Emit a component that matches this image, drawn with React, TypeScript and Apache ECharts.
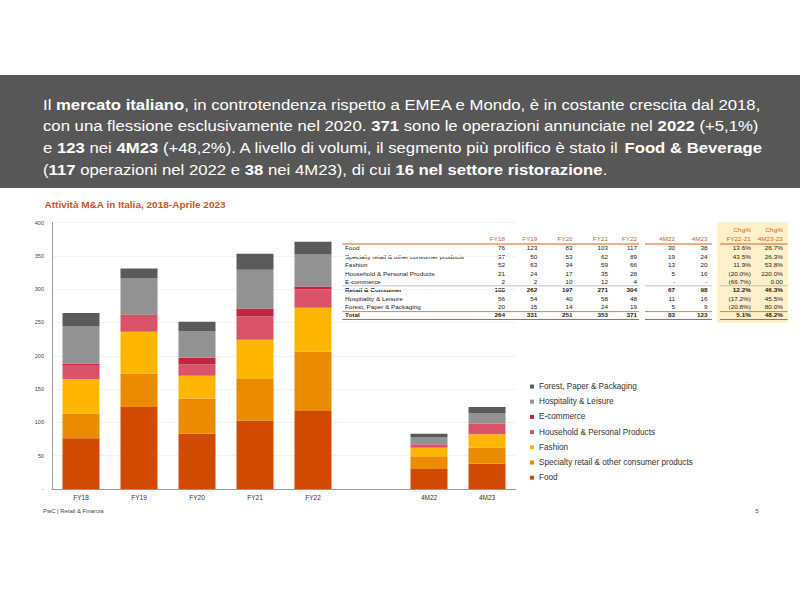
import React, { useEffect, useRef } from "react";
import * as echarts from "echarts";

const categories = ["FY18", "FY19", "FY20", "FY21", "FY22", "", "4M22", "4M23"];
const food = [76, 123, 83, 103, 117, null, 30, 38];
const specialty = [37, 50, 53, 62, 89, null, 19, 24];
const fashion = [52, 63, 34, 59, 66, null, 13, 20];
const household = [21, 24, 17, 35, 28, null, 5, 16];
const ecommerce = [2, 2, 10, 12, 4, null, 0, 0];
const hospitality = [56, 54, 40, 58, 48, null, 11, 16];
const forest = [20, 15, 14, 24, 19, null, 5, 9];

const seriesNames = [
  "Food",
  "Specialty retail & other consumer products",
  "Fashion",
  "Household & Personal Products",
  "E-commerce",
  "Hospitality & Leisure",
  "Forest, Paper & Packaging",
];
const seriesColors = ["#D04A02", "#EB8C00", "#FFB600", "#DB536A", "#C4243F", "#929292", "#5A5A5A"];

// Table content
const tableHeaders = ["FY18", "FY19", "FY20", "FY21", "FY22", "4M22", "4M23"];
const chgHeadersTop = ["Chg%", "Chg%"];
const chgHeadersBottom = ["FY22-21", "4M23-23"];
const tableRowLabels = [
  "Food",
  "Specialty retail & other consumer products",
  "Fashion",
  "Household & Personal Products",
  "E-commerce",
  "Retail & Consumer",
  "Hospitality & Leisure",
  "Forest, Paper & Packaging",
  "Total",
];
const tableValues = [
  ["76", "123", "83", "103", "117", "30", "38", "13.6%", "26.7%"],
  ["37", "50", "53", "62", "89", "19", "24", "43.5%", "26.3%"],
  ["52", "63", "34", "59", "66", "13", "20", "11.9%", "53.8%"],
  ["21", "24", "17", "35", "28", "5", "16", "(20.0%)", "220.0%"],
  ["2", "2", "10", "12", "4", "-", "-", "(66.7%)", "0.00"],
  ["188", "262", "197", "271", "304", "67", "98", "12.2%", "46.3%"],
  ["56", "54", "40", "58", "48", "11", "16", "(17.2%)", "45.5%"],
  ["20", "15", "14", "24", "19", "5", "9", "(20.8%)", "80.0%"],
  ["264", "331", "251", "353", "371", "83", "123", "5.1%", "48.2%"],
];
const boldRows = ["Retail & Consumer", "Total"];

const headlineLines = [
  "Il {b|mercato italiano}, in controtendenza rispetto a EMEA e Mondo, è in costante crescita dal 2018,",
  "con una flessione esclusivamente nel 2020. {b|371} sono le operazioni annunciate nel {b|2022} (+5,1%)",
  "e {b|123} nei {b|4M23} (+48,2%). A livello di volumi, il segmento più prolifico è stato il {b|Food & Beverage}",
  "({b|117} operazioni nel 2022 e {b|38} nei 4M23), di cui {b|16 nel settore ristorazione}.",
];
const chartTitle = "Attività M&A in Italia, 2018-Aprile 2023";
const footerLeft = "PwC | Retail & Finanza";
const footerRight = "5";

const FONT = "Liberation Sans, Arial, sans-serif";
const STRETCH = 1.115;

export default function App() {
  const ref = useRef<HTMLDivElement>(null);
  useEffect(() => {
    if (!ref.current) return;
    const chart = echarts.init(ref.current, null, { renderer: "svg" });
    const dataSets = [food, specialty, fashion, household, ecommerce, hospitality, forest];

    const graphics: any[] = [];
    graphics.push({ type: "rect", shape: { x: 0, y: 75, width: 800, height: 113 }, style: { fill: "#575757" }, z: 0 });
    headlineLines.forEach((line, i) => {
      graphics.push({
        type: "text",
        x: 43,
        y: 104.5 + i * 21.8,
        scaleX: STRETCH,
        style: {
          text: line,
          fill: "#ffffff",
          fontSize: 15,
          fontFamily: FONT,
          verticalAlign: "middle",
          rich: { b: { fontWeight: "bold", fontSize: 15, fontFamily: FONT, fill: "#ffffff" } },
        },
      });
    });
    graphics.push({
      type: "text",
      x: 44.5,
      y: 204.5,
      scaleX: STRETCH,
      style: { text: chartTitle, fill: "#D0541A", fontSize: 9, fontWeight: "bold", fontFamily: FONT, verticalAlign: "middle" },
    });
    graphics.push({ type: "rect", shape: { x: 717, y: 222, width: 71, height: 101 }, style: { fill: "#FEF0CA" }, z: 0 });
    const colX = [505, 537.3, 572.6, 608, 637, 675, 707.6, 750.8, 782.8];
    const headerY = 239.3;
    const rowY0 = 248.6;
    const rowStep = 8.34;
    const TF = 5.7;
    tableHeaders.forEach((h, i) => {
      graphics.push({
        type: "text",
        x: colX[i],
        y: headerY,
        scaleX: STRETCH,
        style: { text: h, fill: "#D5621F", fontSize: TF, fontFamily: FONT, align: "right", verticalAlign: "middle" },
      });
    });
    chgHeadersTop.forEach((h, i) => {
      graphics.push({
        type: "text",
        x: colX[7 + i],
        y: 230.3,
        scaleX: STRETCH,
        style: { text: h, fill: "#D5621F", fontSize: TF, fontFamily: FONT, align: "right", verticalAlign: "middle" },
      });
      graphics.push({
        type: "text",
        x: colX[7 + i],
        y: headerY,
        scaleX: STRETCH,
        style: { text: chgHeadersBottom[i], fill: "#D5621F", fontSize: TF, fontFamily: FONT, align: "right", verticalAlign: "middle" },
      });
    });
    tableRowLabels.forEach((label, r) => {
      const bold = boldRows.indexOf(label) >= 0;
      const y = rowY0 + r * rowStep;
      graphics.push({
        type: "text",
        x: 345,
        y,
        scaleX: STRETCH,
        style: { text: label, fill: "#222", fontSize: TF, fontWeight: bold ? "bold" : "normal", fontFamily: FONT, verticalAlign: "middle" },
      });
      tableValues[r].forEach((v, c) => {
        graphics.push({
          type: "text",
          x: colX[c],
          y,
          scaleX: STRETCH,
          style: { text: v, fill: "#222", fontSize: TF, fontWeight: bold ? "bold" : "normal", fontFamily: FONT, align: "right", verticalAlign: "middle" },
        });
      });
    });
    const segs = [
      [342.5, 639],
      [645, 712],
      [720, 787.5],
    ];
    const addLine = (y: number, color: string, w: number) => {
      segs.forEach(([a, b]) => {
        graphics.push({ type: "line", shape: { x1: a, y1: y, x2: b, y2: y }, style: { stroke: color, lineWidth: w } });
      });
    };
    addLine(244, "#D5621F", 1);
    addLine(285.8, "#8a8a8a", 0.5);
    addLine(311.6, "#B8683A", 0.8);
    addLine(319.5, "#D5621F", 1.2);
    graphics.push({ type: "text", x: 43, y: 511.5, scaleX: STRETCH, style: { text: footerLeft, fill: "#444", fontSize: 5.3, fontFamily: FONT, verticalAlign: "middle" } });
    graphics.push({ type: "text", x: 757, y: 511, style: { text: footerRight, fill: "#444", fontSize: 6, fontFamily: FONT, align: "center", verticalAlign: "middle" } });

    chart.setOption({
      animation: false,
      backgroundColor: "#ffffff",
      textStyle: { fontFamily: FONT },
      grid: { left: 52, right: 284, top: 222.5, bottom: 111, containLabel: false },
      legend: {
        orient: "vertical",
        left: 525,
        top: 376.5,
        data: seriesNames.slice().reverse(),
        icon: "rect",
        itemWidth: 4,
        itemHeight: 4,
        itemGap: 5.2,
        textStyle: { fontSize: 8.2, color: "#333", fontFamily: FONT, lineHeight: 10 },
        selectedMode: false,
      },
      xAxis: {
        type: "category",
        data: categories,
        axisLine: { show: true, lineStyle: { color: "#9a9a9a", width: 1 } },
        axisTick: { show: false },
        axisLabel: { fontSize: 6.5, color: "#333", margin: 5, interval: 0, fontFamily: FONT },
      },
      yAxis: {
        type: "value",
        min: 0,
        max: 400,
        interval: 50,
        axisLine: { show: true, lineStyle: { color: "#9a9a9a", width: 1 } },
        axisTick: { show: false },
        splitLine: { show: true, lineStyle: { color: "#f3f3f3", width: 1 } },
        axisLabel: {
          fontSize: 5.5,
          color: "#444",
          margin: 8,
          fontFamily: FONT,
          formatter: (v: number) => (v === 0 ? "-" : String(v)),
        },
      },
      series: seriesNames.map((name, i) => ({
        name,
        type: "bar",
        stack: "total",
        barWidth: 37,
        data: dataSets[i],
        itemStyle: { color: seriesColors[i] },
      })),
      graphic: graphics,
    });
    return () => chart.dispose();
  }, []);
  return <div ref={ref} style={{ position: "fixed", left: 0, top: 0, width: 800, height: 600, background: "#fff" }} />;
}
